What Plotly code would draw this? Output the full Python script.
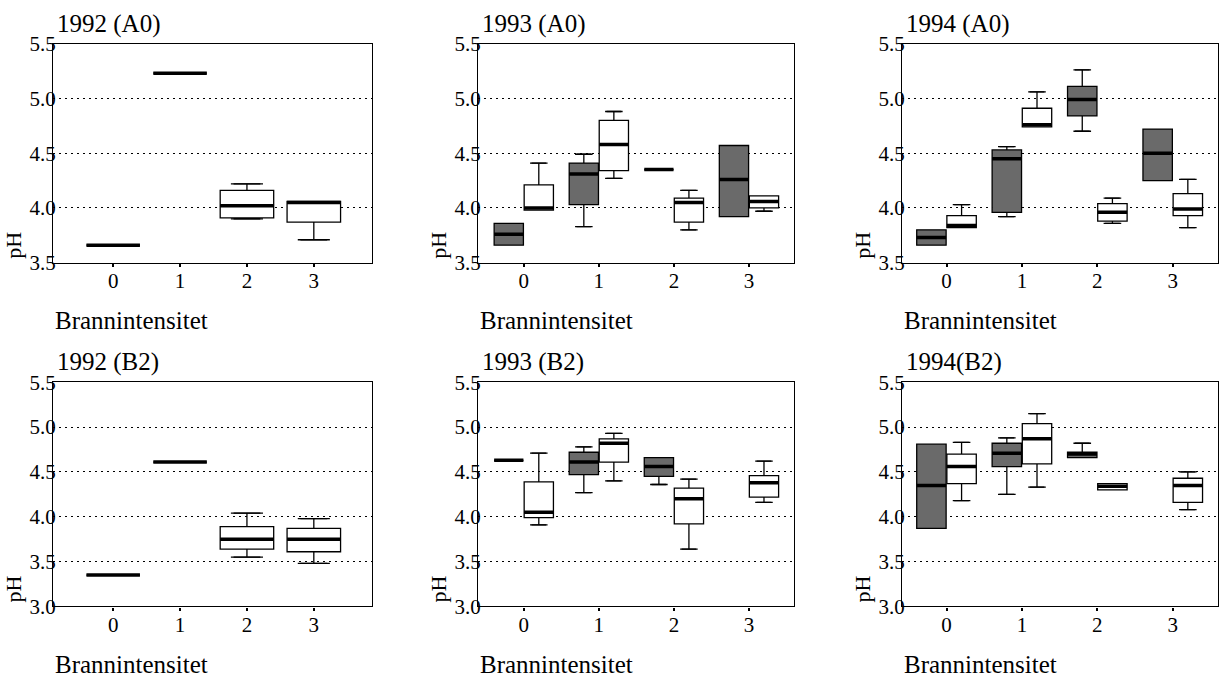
import plotly.graph_objects as go

# ---------------- data (lowerfence, q1, median, q3, upperfence) ----------------
categories = [0, 1, 2, 3]
tick_labels = ["0", "1", "2", "3"]

# 1992 A0 (one series only)
a0_1992_white = [(3.66, 3.66, 3.66, 3.66, 3.66), (5.23, 5.23, 5.23, 5.23, 5.23),
                 (3.90, 3.91, 4.02, 4.16, 4.22), (3.71, 3.87, 4.05, 4.06, 4.06)]
# 1993 A0
a0_1993_grey = [(3.66, 3.66, 3.76, 3.86, 3.86), (3.83, 4.03, 4.31, 4.41, 4.49),
                (4.35, 4.35, 4.35, 4.35, 4.35), (3.92, 3.92, 4.26, 4.57, 4.57)]
a0_1993_white = [(3.98, 3.98, 4.00, 4.21, 4.41), (4.27, 4.34, 4.58, 4.80, 4.88),
                 (3.80, 3.87, 4.05, 4.09, 4.16), (3.97, 4.00, 4.06, 4.11, 4.11)]
# 1994 A0
a0_1994_grey = [(3.66, 3.66, 3.73, 3.80, 3.80), (3.92, 3.96, 4.45, 4.53, 4.56),
                (4.70, 4.84, 4.99, 5.11, 5.26), (4.25, 4.25, 4.50, 4.72, 4.72)]
a0_1994_white = [(3.82, 3.82, 3.84, 3.93, 4.03), (4.74, 4.74, 4.76, 4.91, 5.06),
                 (3.86, 3.88, 3.96, 4.04, 4.09), (3.82, 3.93, 3.99, 4.13, 4.26)]
# 1992 B2 (one series only)
b2_1992_white = [(3.35, 3.35, 3.35, 3.35, 3.35), (4.61, 4.61, 4.61, 4.61, 4.61),
                 (3.55, 3.64, 3.75, 3.89, 4.04), (3.48, 3.61, 3.75, 3.87, 3.98)]
# 1993 B2
b2_1993_grey = [(4.63, 4.63, 4.63, 4.63, 4.63), (4.27, 4.47, 4.61, 4.72, 4.78),
                (4.36, 4.45, 4.56, 4.66, 4.66), None]
b2_1993_white = [(3.91, 3.99, 4.05, 4.39, 4.71), (4.40, 4.61, 4.82, 4.87, 4.93),
                 (3.64, 3.92, 4.20, 4.32, 4.42), (4.16, 4.22, 4.38, 4.46, 4.62)]
# 1994 B2
b2_1994_grey = [(3.87, 3.87, 4.35, 4.81, 4.81), (4.25, 4.56, 4.71, 4.82, 4.88),
                (4.66, 4.66, 4.70, 4.72, 4.82), None]
b2_1994_white = [(4.18, 4.37, 4.56, 4.70, 4.83), (4.33, 4.59, 4.87, 5.04, 5.15),
                 (4.30, 4.30, 4.34, 4.37, 4.37), (4.08, 4.16, 4.35, 4.43, 4.50)]

panel_titles = ["1992 (A0)", "1993 (A0)", "1994 (A0)", "1992 (B2)", "1993 (B2)", "1994(B2)"]
x_title = "Brannintensitet"
y_title = "pH"

panels = [
    [(a0_1992_white, "white")],
    [(a0_1993_grey, "grey"), (a0_1993_white, "white")],
    [(a0_1994_grey, "grey"), (a0_1994_white, "white")],
    [(b2_1992_white, "white")],
    [(b2_1993_grey, "grey"), (b2_1993_white, "white")],
    [(b2_1994_grey, "grey"), (b2_1994_white, "white")],
]

# ---------------- layout geometry ----------------
W, H = 1222, 683
FONT = "Liberation Serif, Times New Roman, serif"
col_px = [(53, 372), (478, 794), (902, 1218)]
row_px = [(42, 262), (382, 607)]
x_ranges = [[-0.9, 3.87], [-0.61, 3.6], [-0.59, 3.6]]
y_ranges = [[3.5, 5.5], [3.0, 5.5]]
FILL = {"grey": "#6a6a6a", "white": "white"}

# measured: the rendered paper area spans ~10.3 px .. ~671.8 px vertically
TOP_OFF, EFF_H = 10.3, 661.5


def py(px):
    """pixel row (from top) -> paper y"""
    return 1 - (px - TOP_OFF) / EFF_H


fig = go.Figure()
annotations = []

for i, series in enumerate(panels):
    r, c = divmod(i, 3)
    n = i + 1
    xa = "x" if n == 1 else f"x{n}"
    ya = "y" if n == 1 else f"y{n}"
    paired = len(series) == 2
    bw = 0.39 if paired else 0.8
    for k, (data, style) in enumerate(series):
        off = (-0.2 if k == 0 else 0.2) if paired else 0.0
        xs, lo, q1, md, q3, hi = [], [], [], [], [], []
        for cat, v in zip(categories, data):
            if v is None:
                continue
            xs.append(cat + off)
            lo.append(v[0]); q1.append(v[1]); md.append(v[2]); q3.append(v[3]); hi.append(v[4])
        common = dict(x=xs, xaxis=xa, yaxis=ya, showlegend=False, hoverinfo="skip",
                      boxpoints=False)
        # main boxes with whiskers
        fig.add_trace(go.Box(lowerfence=lo, q1=q1, median=md, q3=q3, upperfence=hi,
                             width=bw, fillcolor=FILL[style],
                             line=dict(color="black", width=1.3), **common))
        # thick median bars
        fig.add_trace(go.Box(lowerfence=md, q1=md, median=md, q3=md, upperfence=md,
                             width=bw, fillcolor=FILL[style],
                             line=dict(color="black", width=3.5), **common))
        # whisker caps
        for fence, quart in ((hi, q3), (lo, q1)):
            cx = [x for x, f, q in zip(xs, fence, quart) if f != q]
            cy = [f for f, q in zip(fence, quart) if f != q]
            if cx:
                fig.add_trace(go.Box(x=cx, lowerfence=cy, q1=cy, median=cy, q3=cy,
                                     upperfence=cy, width=bw * 0.6, xaxis=xa, yaxis=ya,
                                     showlegend=False, hoverinfo="skip", boxpoints=False,
                                     line=dict(color="black", width=1.3)))

    x0, x1 = col_px[c]
    y0, y1 = row_px[r]
    ax_common = dict(showline=True, linecolor="black", linewidth=1.2, mirror=True,
                     zeroline=False, tickfont=dict(family=FONT, size=21, color="black"))
    fig.layout[f"xaxis{'' if n == 1 else n}"] = dict(
        domain=[x0 / W, x1 / W], range=x_ranges[c], anchor=ya,
        tickmode="array", tickvals=categories, ticktext=tick_labels,
        ticks="outside", ticklen=3, tickwidth=2, tickcolor="black",
        ticklabelstandoff=-4, showgrid=False, **ax_common)
    fig.layout[f"yaxis{'' if n == 1 else n}"] = dict(
        domain=[py(y1), py(y0)], range=y_ranges[r], anchor=xa,
        dtick=0.5, tick0=3.0, tickformat=".1f", ticks="",
        showgrid=True, gridcolor="black", griddash="2px,4px", gridwidth=1,
        ticklabelstandoff=-8, **ax_common)

    annotations.append(dict(text=panel_titles[i], xref="paper", yref="paper",
                            x=(x0 + 2) / W, y=py(y0 - 20), xanchor="left",
                            yanchor="middle", showarrow=False,
                            font=dict(family=FONT, size=25, color="black")))
    annotations.append(dict(text=x_title, xref="paper", yref="paper",
                            x=x0 / W, y=py(y1 + 58), xanchor="left",
                            yanchor="middle", showarrow=False,
                            font=dict(family=FONT, size=25, color="black")))
    annotations.append(dict(text=y_title, xref="paper", yref="paper",
                            x=(x0 - 39) / W, y=py(y1 - 17), xanchor="center",
                            yanchor="middle", textangle=-90, showarrow=False,
                            font=dict(family=FONT, size=22, color="black")))

fig.update_layout(width=W, height=H, autosize=False,
                  margin=dict(l=0, r=0, t=0, b=0, pad=0),
                  paper_bgcolor="white", plot_bgcolor="white", boxmode="overlay",
                  annotations=annotations, showlegend=False)

fig.write_html("out.html")
